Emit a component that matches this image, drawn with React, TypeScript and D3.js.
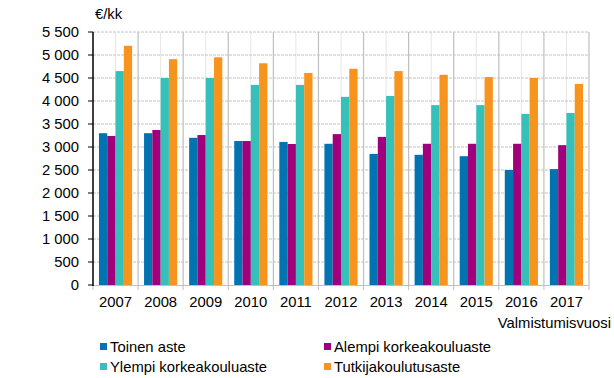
import React from "react";
import * as d3 from "d3";

const years = ["2007","2008","2009","2010","2011","2012","2013","2014","2015","2016","2017"];
const seriesNames = ["Toinen aste","Alempi korkeakouluaste","Ylempi korkeakouluaste","Tutkijakoulutusaste"];
const colors = ["#0073B0","#A1007D","#35C1BA","#F7941D"];
const toinen = [3300,3300,3200,3130,3110,3070,2850,2830,2800,2500,2520];
const alempi = [3240,3370,3260,3130,3065,3280,3220,3070,3070,3070,3040];
const ylempi = [4650,4500,4500,4350,4350,4090,4110,3910,3910,3720,3740];
const tutkija = [5200,4910,4950,4820,4610,4700,4650,4570,4520,4500,4370];
const yTicks = [0,500,1000,1500,2000,2500,3000,3500,4000,4500,5000,5500];

const W = 614, H = 378;
const left = 93, right = 589, top = 32, bottom = 285;
const font = "'Liberation Sans', Arial, sans-serif";
const fs = 14.8;

export default function App() {
  const series = [toinen, alempi, ylempi, tutkija];
  const x = d3.scaleBand<string>().domain(years).range([left, right]).paddingInner(0).paddingOuter(0);
  const inner = d3.scaleBand<number>().domain([0,1,2,3]).range([0, x.bandwidth()]).paddingInner(0).paddingOuter(0.72);
  const y = d3.scaleLinear().domain([0, 5500]).range([bottom, top]);
  const fmt = (v: number) => d3.format(",")(v).replace(/,/g, " ");
  const bounds = years.map((yr) => x(yr)!).concat([right]);
  return (
    <svg width={W} height={H} style={{ position: "absolute", left: 0, top: 0, background: "#fff" }} fontFamily={font}>
      {years.map((yr) => (
        <line key={"c" + yr} x1={x(yr)! + x.bandwidth() / 2} x2={x(yr)! + x.bandwidth() / 2} y1={top} y2={bottom} stroke="#e6e6e6" strokeWidth={1} />
      ))}
      {yTicks.filter((t) => t > 0).map((t) => (
        <line key={"h" + t} x1={left} x2={right} y1={y(t)} y2={y(t)} stroke="#c4c4c4" strokeWidth={1} strokeDasharray="3,1" />
      ))}
      {bounds.slice(1).map((b, i) => (
        <line key={"b" + i} x1={b} x2={b} y1={top} y2={bottom} stroke="#bfbfbf" strokeWidth={1.2} />
      ))}
      {series.map((vals, si) =>
        vals.map((v, i) => (
          <rect key={si + "-" + i} x={x(years[i])! + inner(si)!} y={y(v)} width={inner.bandwidth()} height={y(0) - y(v)} fill={colors[si]} />
        ))
      )}
      <line x1={left} x2={right} y1={bottom + 0.5} y2={bottom + 0.5} stroke="#bfbfbf" strokeWidth={1} />
      {bounds.map((b, i) => (
        <line key={"xt" + i} x1={b} x2={b} y1={bottom} y2={bottom + 5} stroke="#bfbfbf" strokeWidth={1} />
      ))}
      {years.map((yr) => (
        <text key={"xl" + yr} x={x(yr)! + x.bandwidth() / 2} y={307} textAnchor="middle" fontSize={fs} fill="#000">{yr}</text>
      ))}
      <line x1={left} x2={left} y1={top} y2={bottom + 1} stroke="#000" strokeWidth={1.5} />
      {yTicks.map((t) => (
        <g key={"yt" + t}>
          <line x1={left - 5} x2={left} y1={y(t)} y2={y(t)} stroke="#000" strokeWidth={1} />
          <text x={79} y={y(t) + 5} textAnchor="end" fontSize={fs} fill="#000">{fmt(t)}</text>
        </g>
      ))}
      <text x={95} y={19} fontSize={fs} fill="#000">€/kk</text>
      <text x={611} y={328} textAnchor="end" fontSize={fs} fill="#000">Valmistumisvuosi</text>
      {seriesNames.map((n, i) => {
        const lx = i % 2 === 0 ? 100 : 324;
        const ly = i < 2 ? 352 : 372;
        return (
          <g key={"lg" + i}>
            <rect x={lx} y={ly - 9} width={7} height={7} fill={colors[i]} />
            <text x={lx + 10} y={ly} fontSize={fs} fill="#000">{n}</text>
          </g>
        );
      })}
    </svg>
  );
}
